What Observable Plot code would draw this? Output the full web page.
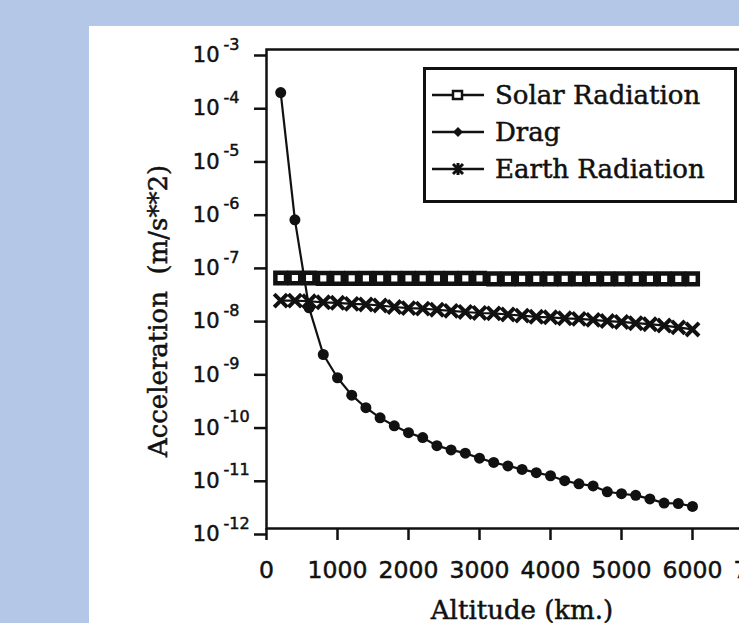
<!DOCTYPE html>
<html><head><meta charset="utf-8">
<script src="https://cdn.jsdelivr.net/npm/d3@7"></script>
<script src="https://cdn.jsdelivr.net/npm/@observablehq/plot@0.6"></script>
<style>
html,body{margin:0;padding:0;background:#b4c7e7;width:739px;height:623px;overflow:hidden;}
#panel{position:absolute;left:89px;top:26px;width:650px;height:597px;background:#fff;overflow:hidden;}
#chart{position:absolute;left:0;top:0;width:700px;}
#chart svg{max-width:none !important;}
#chart text{stroke:#111;stroke-width:0.5px;}
#legend{position:absolute;left:334px;top:41px;width:314px;height:136px;border:3px solid #111;box-sizing:border-box;background:#fff;}
.row{position:absolute;left:6px;height:30px;display:flex;align-items:center;}
.row span{font-family:"DejaVu Serif";font-size:26px;color:#111;margin-left:9px;white-space:nowrap;-webkit-text-stroke:0.5px #111;}
</style>
</head><body>
<div id="panel"><div id="chart"></div>
<div id="legend">
  <div class="row" style="top:10px"><svg width="54" height="20"><line x1="0" y1="10" x2="52" y2="10" stroke="#111" stroke-width="2.5"/><rect x="21" y="6" width="9" height="8" fill="#fff" stroke="#111" stroke-width="2.5"/></svg><span>Solar Radiation</span></div>
  <div class="row" style="top:47px"><svg width="54" height="20"><line x1="0" y1="10" x2="52" y2="10" stroke="#111" stroke-width="2.5"/><path d="M26,5 L31,10 L26,15 L21,10 Z" fill="#111"/></svg><span>Drag</span></div>
  <div class="row" style="top:84px"><svg width="54" height="20"><line x1="0" y1="10" x2="52" y2="10" stroke="#111" stroke-width="2.5"/><path d="M21,5 L31,15 M31,5 L21,15 M26,4 L26,16" stroke="#111" stroke-width="3"/></svg><span>Earth Radiation</span></div>
</div>
</div>
<script>
const altitudes = [200,400,600,800,1000,1200,1400,1600,1800,2000,2200,2400,2600,2800,3000,3200,3400,3600,3800,4000,4200,4400,4600,4800,5000,5200,5400,5600,5800,6000];
const solarRadiation = [5.1e-8,5.1e-8,5.1e-8,5.0e-8,5.0e-8,5.0e-8,5.0e-8,5.0e-8,5.0e-8,5.0e-8,5.0e-8,5.0e-8,5.0e-8,5.0e-8,5.0e-8,4.9e-8,4.9e-8,4.9e-8,4.9e-8,4.9e-8,4.9e-8,4.9e-8,4.9e-8,4.9e-8,4.9e-8,4.9e-8,4.9e-8,4.9e-8,4.9e-8,4.9e-8];
const drag = [1.55e-4,6.3e-7,1.4e-8,1.86e-9,6.8e-10,3.2e-10,1.86e-10,1.2e-10,8.5e-11,6.3e-11,5.1e-11,3.6e-11,3.0e-11,2.6e-11,2.1e-11,1.74e-11,1.5e-11,1.29e-11,1.12e-11,9.8e-12,7.9e-12,6.9e-12,6.3e-12,4.9e-12,4.5e-12,4.2e-12,3.6e-12,3.0e-12,2.95e-12,2.6e-12];
const earthRadiation = [1.91e-8,1.91e-8,1.86e-8,1.78e-8,1.74e-8,1.66e-8,1.62e-8,1.55e-8,1.45e-8,1.38e-8,1.35e-8,1.29e-8,1.23e-8,1.17e-8,1.12e-8,1.10e-8,1.05e-8,1.00e-8,9.5e-9,9.3e-9,8.9e-9,8.7e-9,8.3e-9,7.9e-9,7.6e-9,7.2e-9,6.9e-9,6.5e-9,6.0e-9,5.5e-9];
const seriesNames = ["Solar Radiation","Drag","Earth Radiation"];
const xTicks = [0,1000,2000,3000,4000,5000,6000,7000];
const yExponents = [-3,-4,-5,-6,-7,-8,-9,-10,-11,-12];
const xLabel = "Altitude (km.)";
const yLabel = "Acceleration  (m/s**2)";

const seriesValues = [solarRadiation, drag, earthRadiation];
const rows = seriesNames.flatMap((s, k) => altitudes.map((a, i) => ({series: s, altitude: a, value: seriesValues[k][i]})));
const yTicks = yExponents.map(e => Math.pow(10, e));
const ink = "#111";

const chart = Plot.plot({
  width: 700, height: 597,
  marginLeft: 177, marginRight: 26, marginTop: 23, marginBottom: 95,
  x: {domain: [0, 7000]},
  y: {type: "log", domain: [1e-12, 1e-3]},
  style: {background: "transparent", color: ink, maxWidth: "none"},
  marks: [
    Plot.frame({stroke: ink, strokeWidth: 2.5}),
    Plot.axisX(xTicks, {tickSize: 12, tickPadding: 21, fontSize: 23.5, fontFamily: "DejaVu Sans", strokeWidth: 2.5, label: null, tickFormat: d => String(d)}),
    Plot.axisY(yTicks, {tickSize: 12, tickPadding: 35, fontSize: 21, fontFamily: "DejaVu Sans", strokeWidth: 2.5, label: null, tickFormat: () => "10", dy: 6}),
    Plot.text(yExponents, {x: () => 0, y: e => Math.pow(10, e), text: e => "-" + Math.abs(e), dx: -43, dy: -5, textAnchor: "start", fontSize: 16, fontFamily: "DejaVu Sans", fill: ink}),
    Plot.line(rows, {x: "altitude", y: "value", z: "series", stroke: ink, strokeWidth: 2.2}),
    Plot.dot(rows.filter(d => d.series === "Solar Radiation"), {x: "altitude", y: "value", symbol: "square", r: 6, fill: "#fff", stroke: ink, strokeWidth: 4.5}),
    Plot.dot(rows.filter(d => d.series === "Earth Radiation"), {x: "altitude", y: "value", symbol: "times", r: 6, stroke: ink, strokeWidth: 4}),
    Plot.dot(rows.filter(d => d.series === "Drag"), {x: "altitude", y: "value", symbol: "circle", r: 5.5, fill: ink, stroke: "none"}),
    Plot.text([yLabel], {frameAnchor: "left", text: d => d, rotate: -90, textAnchor: "middle", lineAnchor: "middle", dx: -108, dy: 22, fontSize: 26, fontFamily: "DejaVu Serif", fill: ink}),
    Plot.text([xLabel], {frameAnchor: "bottom", text: d => d, textAnchor: "middle", dx: 7, dy: 90, fontSize: 26, fontFamily: "DejaVu Serif", fill: ink})
  ]
});
chart.style.maxWidth = "none";
document.getElementById("chart").appendChild(chart);
</script>
</body></html>
